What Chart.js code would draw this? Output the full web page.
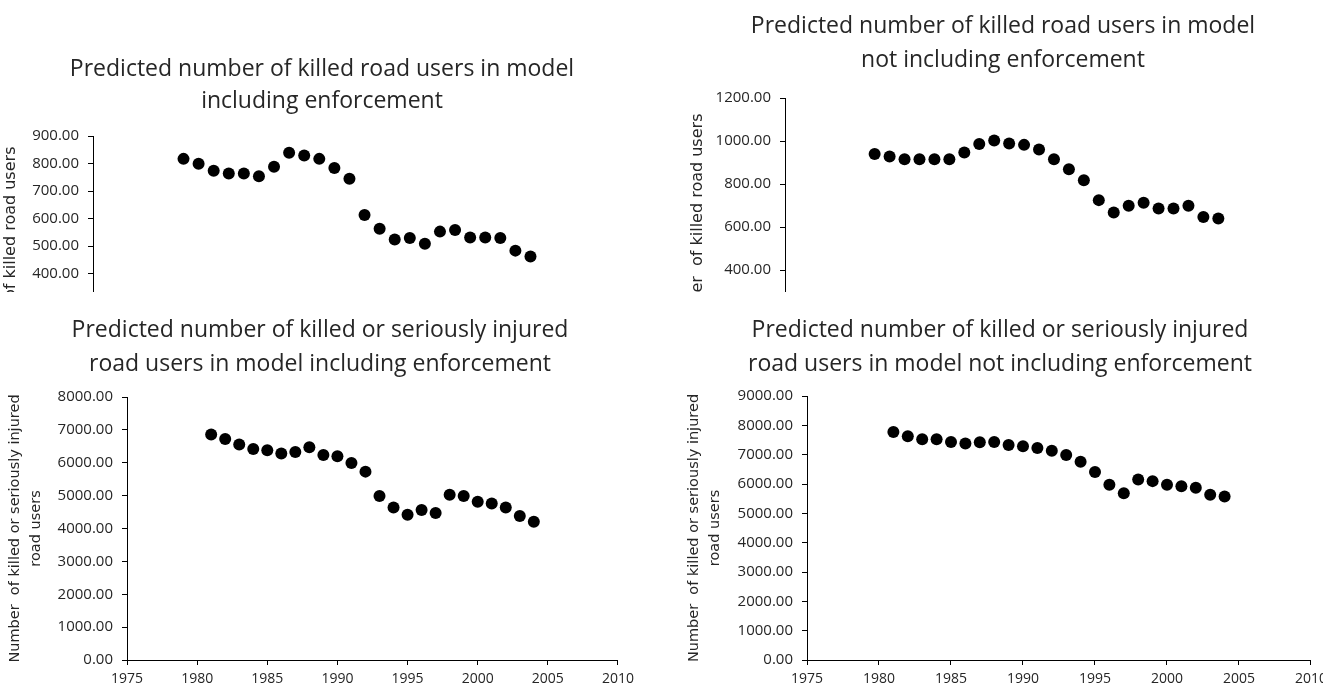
<!DOCTYPE html>
<html>
<head>
<meta charset="utf-8">
<script src="https://cdn.jsdelivr.net/npm/chart.js@4.4.1/dist/chart.umd.min.js"></script>
<style>
  body { margin: 0; background: #fff; width: 1323px; height: 688px; overflow: hidden; position: relative; }
  #topClip { position: absolute; left: 0; top: 0; width: 1323px; height: 292px; overflow: hidden; }
  canvas { position: absolute; }
</style>
</head>
<body>
<div id="topClip">
  <canvas id="c1"></canvas>
  <canvas id="c2"></canvas>
</div>
<canvas id="c3"></canvas>
<canvas id="c4"></canvas>
<script>
// data
const years = [1981, 1982, 1983, 1984, 1985, 1986, 1987, 1988, 1989, 1990, 1991, 1992,
               1993, 1994, 1995, 1996, 1997, 1998, 1999, 2000, 2001, 2002, 2003, 2004];
const killedWithEnf = [817, 799, 774, 764, 764, 754, 788, 839, 829, 817, 784, 745,
                       613, 563, 524, 530, 509, 553, 559, 532, 532, 530, 484, 463];
const killedNoEnf = [940, 928, 915, 915, 915, 915, 947, 986, 1002, 988, 982, 960,
                     915, 869, 817, 725, 667, 699, 713, 686, 686, 699, 647, 640];
const ksiWithEnf = [6858, 6726, 6553, 6421, 6380, 6278, 6329, 6472, 6238, 6197, 5994, 5730,
                    4988, 4642, 4419, 4561, 4470, 5028, 4988, 4815, 4764, 4642, 4378, 4205];
const ksiNoEnf = [7776, 7628, 7525, 7525, 7434, 7377, 7422, 7434, 7331, 7285, 7228, 7137,
                  6989, 6760, 6406, 5973, 5687, 6155, 6098, 5973, 5927, 5870, 5630, 5573];
const xTicks = [1975, 1980, 1985, 1990, 1995, 2000, 2005, 2010];

const FONT = "'Open Sans', sans-serif";
const AXIS_FONT = "'DejaVu Sans', sans-serif";
const TEXT = '#262626';

function makeChart(id, cfg) {
    const cv = document.getElementById(id);
    cv.width = cfg.w;
    cv.height = cfg.h;
    cv.style.left = cfg.x + 'px';
    cv.style.top = cfg.y + 'px';

    return new Chart(cv, {
        type: 'scatter',
        data: {
            datasets: [{
                data: years.map((yr, i) => ({ x: yr, y: cfg.values[i] })),
                backgroundColor: '#000',
                borderWidth: 0,
                pointRadius: 6,
                pointHoverRadius: 6
            }]
        },
        options: {
            responsive: false,
            animation: false,
            devicePixelRatio: 1,
            layout: { padding: 0 },
            events: [],
            plugins: {
                legend: { display: false },
                tooltip: { enabled: false },
                title: {
                    display: true,
                    text: cfg.title,
                    color: TEXT,
                    font: { family: FONT, size: 23, weight: 'normal', lineHeight: cfg.titleLH / 23 },
                    padding: { top: 0, bottom: cfg.titleGap }
                }
            },
            scales: {
                x: {
                    type: 'linear',
                    min: 1975,
                    max: 2010,
                    afterBuildTicks: s => { s.ticks = xTicks.map(v => ({ value: v })); },
                    afterFit: s => { s.height = 28; },
                    ticks: { callback: v => String(v), color: TEXT, font: { family: FONT, size: 14 }, padding: 6, maxRotation: 0 },
                    grid: { display: true, drawOnChartArea: false, tickLength: 5, color: '#000' },
                    border: { color: '#000' }
                },
                y: {
                    type: 'linear',
                    min: 0,
                    max: cfg.yMax,
                    afterFit: s => { s.width = cfg.yW; },
                    ticks: { stepSize: cfg.yStep, callback: v => v.toFixed(2), color: TEXT, font: { family: FONT, size: 15 }, padding: 9 },
                    grid: { display: true, drawOnChartArea: false, tickLength: 5, color: '#000' },
                    border: { color: '#000' },
                    title: {
                        display: true,
                        text: cfg.yTitle,
                        color: TEXT,
                        font: { family: AXIS_FONT, size: cfg.yTitleSize, lineHeight: cfg.yTitleLH },
                        padding: { top: cfg.yTitlePad, bottom: 0 }
                    }
                },
                spacer: {
                    type: 'linear',
                    position: 'right',
                    afterFit: s => { s.width = cfg.spacer; },
                    ticks: { display: false },
                    grid: { display: false },
                    border: { display: false }
                }
            }
        }
    });
}

makeChart('c1', {
    x: 0, y: 53, w: 644, h: 359, yW: 93, spacer: 23,
    title: ['Predicted number of killed road users in model', 'including enforcement'],
    titleLH: 32, titleGap: 19,
    values: killedWithEnf, yMax: 900, yStep: 100,
    yTitle: 'Number  of killed road users', yTitleSize: 16, yTitleLH: 1.2, yTitlePad: 1
});

makeChart('c2', {
    x: 676, y: 9, w: 654, h: 375, yW: 109, spacer: 20,
    title: ['Predicted number of killed road users in model', 'not including enforcement'],
    titleLH: 34, titleGap: 21,
    values: killedNoEnf, yMax: 1200, yStep: 200,
    yTitle: 'Number  of killed road users', yTitleSize: 16, yTitleLH: 1.2, yTitlePad: 12
});

makeChart('c3', {
    x: 0, y: 313, w: 640, h: 375, yW: 127, spacer: 18,
    title: ['Predicted number of killed or seriously injured', 'road users in model including enforcement'],
    titleLH: 34, titleGap: 16,
    values: ksiWithEnf, yMax: 8000, yStep: 1000,
    yTitle: ['Number  of killed or seriously injured', 'road users'], yTitleSize: 14.5, yTitleLH: 1.5, yTitlePad: 4
});

makeChart('c4', {
    x: 667, y: 313, w: 666, h: 375, yW: 140, spacer: 20,
    title: ['Predicted number of killed or seriously injured', 'road users in model not including enforcement'],
    titleLH: 34, titleGap: 15,
    values: ksiNoEnf, yMax: 9000, yStep: 1000,
    yTitle: ['Number  of killed or seriously injured', 'road users'], yTitleSize: 14.5, yTitleLH: 1.5, yTitlePad: 16
});
</script>
</body>
</html>
